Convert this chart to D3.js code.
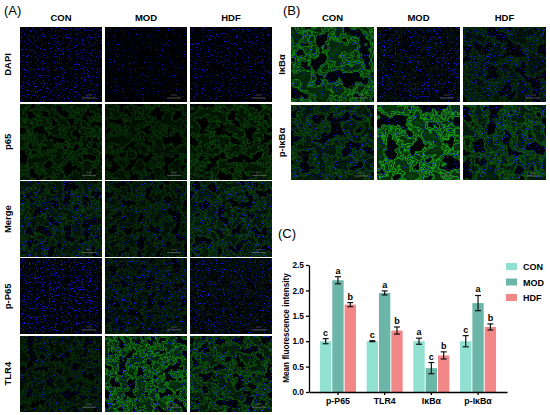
<!DOCTYPE html>
<html>
<head>
<meta charset="UTF-8">
<title>Fluorescence intensity</title>
<script src="https://cdn.jsdelivr.net/npm/d3@7"></script>
<style>
    body { margin: 0; background: #fff; }
    text { font-family: "Liberation Sans", Arial, sans-serif; }
</style>
</head>
<body>
<svg id="mainSvg"></svg>
<script>
    // ---- bar chart data (panel C) ----
    var groups = ["CON", "MOD", "HDF"];
    var markers = ["p-P65", "TLR4", "I\u03baB\u03b1", "p-I\u03baB\u03b1"];
    var conVals = [1.00, 1.00, 1.00, 1.00];
    var modVals = [2.20, 1.95, 0.47, 1.75];
    var hdfVals = [1.72, 1.21, 0.72, 1.28];
    var conErr = [0.05, 0.01, 0.06, 0.11];
    var modErr = [0.07, 0.04, 0.11, 0.15];
    var hdfErr = [0.04, 0.07, 0.07, 0.06];
    var conSig = ["c", "c", "a", "c"];
    var modSig = ["a", "a", "c", "a"];
    var hdfSig = ["b", "b", "b", "b"];
    var yTicks = [0, 0.5, 1.0, 1.5, 2.0, 2.5];

    // ---- image panels (A, B) ----
    var rowsA = ["DAPI", "p65", "Merge", "p-P65", "TLR4"];
    var rowsB = ["I\u03baB\u03b1", "p-I\u03baB\u03b1"];
    // rough staining level of each micrograph: blue = DAPI, green = target
    var blueA = [[1, 0.55, 0.85], [0, 0, 0], [0.85, 0.45, 0.75], [1, 0.9, 0.85], [0.45, 0.7, 0.65]];
    var greenA = [[0, 0, 0], [0.35, 0.3, 0.4], [0.35, 0.3, 0.4], [0.05, 0.25, 0.12], [0.28, 0.8, 0.55]];
    var blueB = [[0.6, 0.95, 0.9], [0.85, 0.65, 0.85]];
    var greenB = [[0.8, 0.1, 0.3], [0.45, 1, 0.55]];

    var w = 550, h = 415;
    var svg = d3.select("#mainSvg").attr("width", w).attr("height", h);
    var defs = svg.append("defs");
    var seed = 1;

    function makeFilter(id, b, g, freq) {
        var f = defs.append("filter").attr("id", id)
                .attr("x", 0).attr("y", 0).attr("width", 1).attr("height", 1)
                .attr("color-interpolation-filters", "sRGB");
        f.append("feFlood").attr("flood-color", "#000").attr("result", "bg");
        var merge = ["bg"];
        if (g > 0) {
            f.append("feTurbulence").attr("type", "fractalNoise").attr("baseFrequency", freq)
                    .attr("numOctaves", 3).attr("seed", seed + 11).attr("result", "t");
            // dim tissue background
            f.append("feColorMatrix").attr("in", "t").attr("type", "matrix")
                    .attr("values", "0 0 0 0 0.04  0 0 0 0 0.45  0 0 0 0 0.04  " + (g * 1.3) + " 0 0 0 " + (-g * 0.45))
                    .attr("result", "fill");
            // tubule outlines from noise contours
            var ct = f.append("feComponentTransfer").attr("in", "t").attr("result", "band");
            ct.append("feFuncR").attr("type", "table")
                    .attr("tableValues", "0 0 0 0 0 0 0 0 0.1 0.9 0.1 0.9 0.1 0 0 0 0 0 0 0 0");
            f.append("feColorMatrix").attr("in", "band").attr("type", "matrix")
                    .attr("values", "0 0 0 0 0.12  0 0 0 0 0.8  0 0 0 0 0.12  " + (g * 0.85) + " 0 0 0 0")
                    .attr("result", "green");
            merge.push("fill", "green");
        }
        if (b > 0) {
            var th = 0.72 - 0.13 * b;
            f.append("feTurbulence").attr("type", "fractalNoise").attr("baseFrequency", 0.85)
                    .attr("numOctaves", 2).attr("seed", seed).attr("result", "n");
            f.append("feColorMatrix").attr("in", "n").attr("type", "matrix")
                    .attr("values", "0 0 0 0 0.1  0 0 0 0 0.1  0 0 0 0 0.9  6 0 0 0 " + (-6 * th))
                    .attr("result", "blue");
            merge.push("blue");
        }
        var fm = f.append("feMerge");
        merge.forEach(function (r) { fm.append("feMergeNode").attr("in", r); });
        seed += 3;
    }

    function drawPanel(label, lx, rows, blue, green, x0, y0, cw, ch, cstep, rstep, freq, rowLabelX) {
        svg.append("text").attr("x", lx).attr("y", 15).attr("font-size", 13).text(label);
        groups.forEach(function (c, j) {
            svg.append("text").attr("x", x0 + j * cstep + cw / 2).attr("y", 21)
                    .attr("text-anchor", "middle").attr("font-size", 9.5).attr("font-weight", "bold").text(c);
        });
        rows.forEach(function (r, i) {
            var cy = y0 + i * rstep + ch / 2;
            svg.append("text").attr("transform", "translate(" + rowLabelX + "," + cy + ") rotate(-90)")
                    .attr("text-anchor", "middle").attr("font-size", 9.5).attr("font-weight", "bold").text(r);
            groups.forEach(function (c, j) {
                var id = "img" + label.replace(/\W/g, "") + i + j;
                makeFilter(id, blue[i][j], green[i][j], freq);
                var px = x0 + j * cstep, py = y0 + i * rstep;
                svg.append("rect").attr("x", px).attr("y", py).attr("width", cw).attr("height", ch)
                        .attr("fill", "#000").attr("filter", "url(#" + id + ")");
                // scale bar
                svg.append("line").attr("x1", px + cw - 20).attr("x2", px + cw - 6)
                        .attr("y1", py + ch - 4).attr("y2", py + ch - 4)
                        .attr("stroke", "#888").attr("stroke-width", 0.6);
                svg.append("line").attr("x1", px + cw - 16).attr("x2", px + cw - 10)
                        .attr("y1", py + ch - 7).attr("y2", py + ch - 7)
                        .attr("stroke", "#666").attr("stroke-width", 0.6);
            });
        });
    }

    drawPanel("(A)", 4, rowsA, blueA, greenA, 20, 27, 82, 75, 85, 77.3, 0.11, 11);
    drawPanel("(B)", 283, rowsB, blueB, greenB, 291, 27, 83, 75, 86, 78, 0.07, 285);

    // ---- panel C: bar chart ----
    var x0 = d3.scaleBand().domain(markers).range([309, 507]).paddingOuter(0.12).paddingInner(0);
    var x1 = d3.scaleBand().domain(groups).range([-18, 18]).paddingInner(0.08);
    var y = d3.scaleLinear().domain([0, 2.5]).range([392, 265]);
    var color = d3.scaleOrdinal().domain(groups).range(["#91e1d3", "#6cb6a9", "#f28787"]);

    var vals = [conVals, modVals, hdfVals], errs = [conErr, modErr, hdfErr], sigs = [conSig, modSig, hdfSig];
    var bars = [];
    markers.forEach(function (m, i) {
        groups.forEach(function (g, k) {
            bars.push({m: m, g: g, v: vals[k][i], e: errs[k][i], s: sigs[k][i]});
        });
    });

    svg.append("text").attr("x", 278).attr("y", 238).attr("font-size", 13).text("(C)");

    var bx = function (d) { return x0(d.m) + x0.bandwidth() / 2 + x1(d.g); };

    svg.selectAll("rect.bar").data(bars).enter().append("rect").attr("class", "bar")
            .attr("x", bx)
            .attr("y", function (d) { return y(d.v); })
            .attr("width", x1.bandwidth())
            .attr("height", function (d) { return y(0) - y(d.v); })
            .attr("fill", function (d) { return color(d.g); });

    var eb = svg.selectAll("g.err").data(bars).enter().append("g").attr("class", "err")
            .attr("stroke", "#111").attr("stroke-width", 1.2);
    var cx = function (d) { return bx(d) + x1.bandwidth() / 2; };
    eb.append("line").attr("x1", cx).attr("x2", cx)
            .attr("y1", function (d) { return y(d.v - d.e); })
            .attr("y2", function (d) { return y(d.v + d.e); });
    [-1, 1].forEach(function (sgn) {
        eb.append("line")
                .attr("x1", function (d) { return cx(d) - 3; }).attr("x2", function (d) { return cx(d) + 3; })
                .attr("y1", function (d) { return y(d.v + sgn * d.e); })
                .attr("y2", function (d) { return y(d.v + sgn * d.e); });
    });

    svg.selectAll("text.sig").data(bars).enter().append("text").attr("class", "sig")
            .attr("x", cx)
            .attr("y", function (d) { return y(d.v + d.e) - 3; })
            .attr("text-anchor", "middle").attr("font-size", 9).attr("font-weight", "bold")
            .text(function (d) { return d.s; });

    var yAxis = svg.append("g").attr("transform", "translate(309,0)")
            .call(d3.axisLeft(y).tickValues(yTicks).tickFormat(d3.format(".1f"))
                    .tickSize(3).tickPadding(2).tickSizeOuter(0));
    var xAxis = svg.append("g").attr("transform", "translate(0,392)")
            .call(d3.axisBottom(x0).tickSize(3).tickPadding(3).tickSizeOuter(0));
    [yAxis, xAxis].forEach(function (a) {
        a.selectAll("path, line").attr("stroke", "#000").attr("stroke-width", 1.3);
        a.selectAll("text").attr("font-size", 8.3).attr("font-weight", "bold").attr("fill", "#000")
                .attr("font-family", "Liberation Sans, Arial, sans-serif");
    });
    xAxis.selectAll("text").attr("font-size", 8.8);

    svg.append("text").attr("transform", "translate(289,328) rotate(-90)")
            .attr("text-anchor", "middle").attr("font-size", 8.2).attr("font-weight", "bold")
            .text("Mean fluorescence intensity");

    var leg = svg.selectAll("g.leg").data(groups).enter().append("g").attr("class", "leg")
            .attr("transform", function (d, i) { return "translate(506," + (263 + i * 15.5) + ")"; });
    leg.append("rect").attr("width", 11).attr("height", 7).attr("fill", function (d) { return color(d); });
    leg.append("text").attr("x", 17).attr("y", 7).attr("font-size", 9).attr("font-weight", "bold").text(function (d) { return d; });
</script>
</body>
</html>
